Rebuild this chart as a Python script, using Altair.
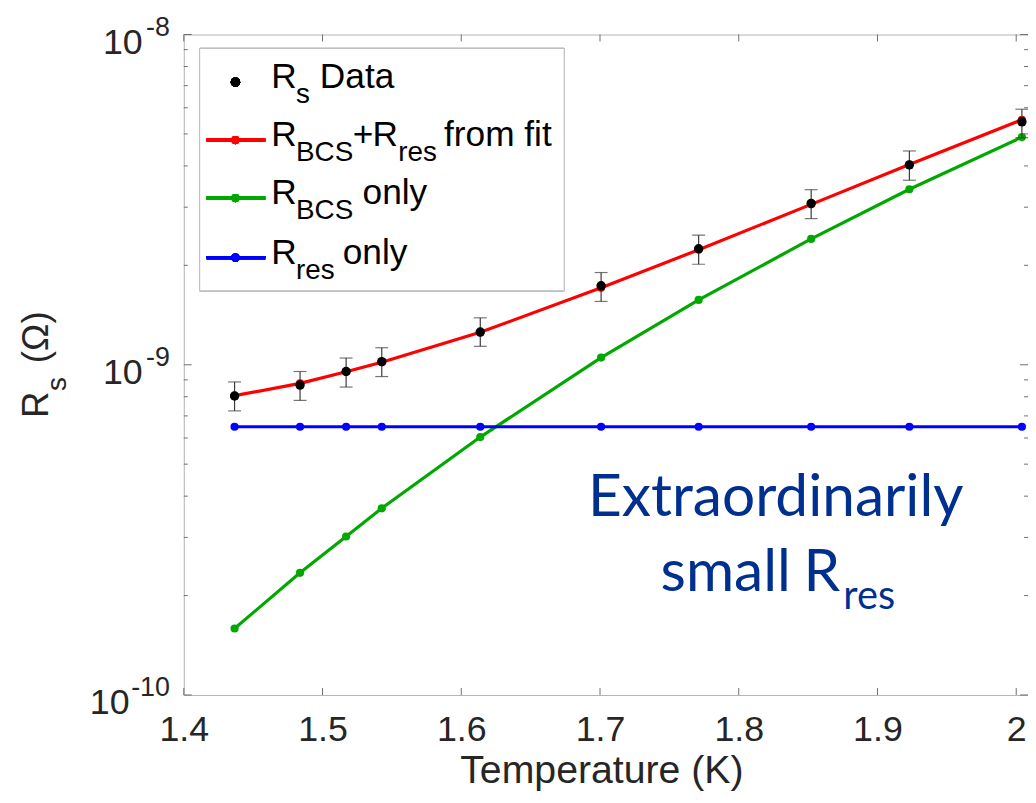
import altair as alt
import pandas as pd

# ---------------- data ----------------
T = [1.4366, 1.4838, 1.5170, 1.5427, 1.6137, 1.7008, 1.7711, 1.8522, 1.9230, 2.0041]
rs_data = [8.04e-10, 8.68e-10, 9.54e-10, 1.022e-9, 1.256e-9, 1.734e-9, 2.245e-9, 3.08e-9, 4.03e-9, 5.44e-9]
rs_lo = [7.25e-10, 7.80e-10, 8.56e-10, 9.21e-10, 1.137e-9, 1.555e-9, 2.015e-9, 2.77e-9, 3.62e-9, 4.87e-9]
rs_hi = [8.87e-10, 9.54e-10, 1.048e-9, 1.126e-9, 1.387e-9, 1.902e-9, 2.469e-9, 3.39e-9, 4.44e-9, 5.94e-9]
r_fit = [8.06e-10, 8.78e-10, 9.52e-10, 1.018e-9, 1.254e-9, 1.71e-9, 2.23e-9, 3.06e-9, 4.04e-9, 5.52e-9]
r_bcs = [1.59e-10, 2.344e-10, 3.02e-10, 3.675e-10, 6.04e-10, 1.051e-9, 1.571e-9, 2.405e-9, 3.40e-9, 4.89e-9]
r_res = [6.49e-10, 6.49e-10, 6.49e-10, 6.49e-10, 6.49e-10, 6.49e-10, 6.49e-10, 6.49e-10, 6.49e-10, 6.49e-10]

x_ticks = [1.4, 1.5, 1.6, 1.7, 1.8, 1.9, 2.0]
y_major = [1e-10, 1e-9, 1e-8]
y_sup = ["-10", "-9", "-8"]
y_minor = [2e-10, 3e-10, 4e-10, 5e-10, 6e-10, 7e-10, 8e-10, 9e-10,
           2e-9, 3e-9, 4e-9, 5e-9, 6e-9, 7e-9, 8e-9, 9e-9]
x_title = "Temperature (K)"

series_colors = {"fit": "#ff0000", "bcs": "#00a800", "res": "#0000ff"}

# ---------------- layout / style ----------------
W, H = 850, 665
FONT = "Liberation Sans"
TXT = "#262626"
TICK = "#6f6f6f"

xs = alt.Scale(domain=[1.4, 2.0085], nice=False, zero=False)
ys = alt.Scale(type="log", domain=[1e-10, 1e-8], nice=False)

df = pd.DataFrame({"T": T, "data": rs_data, "lo": rs_lo, "hi": rs_hi,
                   "fit": r_fit, "bcs": r_bcs, "res": r_res})

X = alt.X("T:Q", scale=xs, axis=alt.Axis(values=x_ticks,
          labelExpr="datum.value == 2 ? '2' : format(datum.value, '.1f')",
          title=None))

layers = []
# base invisible layer carrying the x axis
layers.append(alt.Chart(df).mark_point(opacity=0).encode(
    x=X, y=alt.Y("data:Q", scale=ys, axis=None)))

for key in ["fit", "bcs", "res"]:
    c = series_colors[key]
    base = alt.Chart(df).encode(x=alt.X("T:Q", scale=xs),
                                y=alt.Y(f"{key}:Q", scale=ys))
    layers.append(base.mark_line(color=c, strokeWidth=3.2))
    layers.append(base.mark_circle(color=c, size=68, opacity=1))

# error bars
layers.append(alt.Chart(df).mark_rule(color="#3a3a3a", strokeWidth=1.2).encode(
    x=alt.X("T:Q", scale=xs), y=alt.Y("lo:Q", scale=ys), y2="hi:Q"))
for f in ["lo", "hi"]:
    layers.append(alt.Chart(df).mark_tick(color="#3a3a3a", orient="horizontal",
                                          size=13, thickness=1.2).encode(
        x=alt.X("T:Q", scale=xs), y=alt.Y(f"{f}:Q", scale=ys)))
# data dots
layers.append(alt.Chart(df).mark_circle(color="black", size=90, opacity=1).encode(
    x=alt.X("T:Q", scale=xs), y=alt.Y("data:Q", scale=ys)))

# ---------------- inward ticks ----------------
dxt = pd.DataFrame({"v": x_ticks})
for y0, y1 in [(H, H - 7), (0, 7)]:
    layers.append(alt.Chart(dxt).mark_rule(color=TICK, strokeWidth=1).encode(
        x=alt.X("v:Q", scale=xs), y=alt.value(y0), y2=alt.value(y1)))
dym = pd.DataFrame({"v": y_major})
dyn = pd.DataFrame({"v": y_minor})
for d, L in [(dym, 8), (dyn, 4)]:
    for x0, x1 in [(0, L), (W, W - L)]:
        layers.append(alt.Chart(d).mark_rule(color=TICK, strokeWidth=1).encode(
            y=alt.Y("v:Q", scale=ys), x=alt.value(x0), x2=alt.value(x1)))

# ---------------- y tick labels 10^k ----------------
dlab = pd.DataFrame({"v": y_major, "sup": y_sup})
layers.append(alt.Chart(dlab).mark_text(font=FONT, fontSize=27, color=TXT,
                                        align="right", baseline="alphabetic", dy=1.5).encode(
    y=alt.Y("v:Q", scale=ys), x=alt.value(-14), text="sup:N"))
layers.append(alt.Chart(dlab).transform_calculate(
    xb="-15 - length(datum.sup) * 13.2"
).mark_text(font=FONT, fontSize=36, color=TXT, align="right",
            baseline="alphabetic", dy=19.5).encode(
    y=alt.Y("v:Q", scale=ys), x=alt.X("xb:Q", scale=None), text=alt.value("10")))

# ---------------- x axis title ----------------
layers.append(alt.Chart(pd.DataFrame({"t": [x_title]})).mark_text(
    font=FONT, fontSize=39.5, color=TXT, align="center", baseline="alphabetic").encode(
    x=alt.value(421), y=alt.value(754), text="t:N"))

# ---------------- y axis title  R_s (Ω) ----------------
ytitle = pd.DataFrame({
    "t": ["R", "s", "(\u03a9)"],
    "px": [-137, -119, -137],
    "py": [386, 359, 331],
    "fs": [37, 28, 37],
})
layers.append(alt.Chart(ytitle).mark_text(font=FONT, color=TXT, angle=270,
                                          align="left", baseline="alphabetic").encode(
    x=alt.X("px:Q", scale=None), y=alt.Y("py:Q", scale=None),
    size=alt.Size("fs:Q", scale=None, legend=None), text="t:N"))

# ---------------- legend ----------------
layers.append(alt.Chart(df).mark_rect(fill="white", stroke="#bdbdbd", strokeWidth=1).encode(
    x=alt.value(16), x2=alt.value(383), y=alt.value(14), y2=alt.value(258)))
rows_y = [48, 106.3, 164.7, 224.7]
for key, yy in zip(["fit", "bcs", "res"], rows_y[1:]):
    c = series_colors[key]
    layers.append(alt.Chart(df).mark_rule(color=c, strokeWidth=3.2).encode(
        x=alt.value(23), x2=alt.value(82), y=alt.value(yy)))
    layers.append(alt.Chart(df).mark_circle(color=c, size=68, opacity=1).encode(
        x=alt.value(52), y=alt.value(yy)))
layers.append(alt.Chart(df).mark_circle(color="black", size=90, opacity=1).encode(
    x=alt.value(52), y=alt.value(rows_y[0])))

MAIN, SUB = 35.5, 28
pieces = [
    (0, "R", 88, MAIN), (0, "s", 113, SUB), (0, "Data", 137, MAIN),
    (1, "R", 88, MAIN), (1, "BCS", 113, SUB), (1, "+", 170, MAIN),
    (1, "R", 190, MAIN), (1, "res", 216, SUB), (1, "from fit", 262, MAIN),
    (2, "R", 88, MAIN), (2, "BCS", 113, SUB), (2, "only", 180, MAIN),
    (3, "R", 88, MAIN), (3, "res", 113, SUB), (3, "only", 160, MAIN),
]
leg = pd.DataFrame({
    "t": [p[1] for p in pieces],
    "px": [p[2] for p in pieces],
    "py": [rows_y[p[0]] + (6 if p[3] == MAIN else 21) for p in pieces],
    "fs": [p[3] for p in pieces],
})
layers.append(alt.Chart(leg).mark_text(font=FONT, color="black", align="left",
                                       baseline="alphabetic").encode(
    x=alt.X("px:Q", scale=None), y=alt.Y("py:Q", scale=None),
    size=alt.Size("fs:Q", scale=None, legend=None), text="t:N"))

# ---------------- annotation ----------------
ann = pd.DataFrame({
    "t": ["Extraordinarily", "small", "R", "res"],
    "px": [596, 480, 624, 664],
    "py": [485, 560, 560, 578],
    "fs": [59, 59, 59, 40],
    "al": ["center", "left", "left", "left"],
})
for i in range(len(ann)):
    r = ann.iloc[[i]]
    layers.append(alt.Chart(r).mark_text(font="Lato", color="#00308f",
                                         align=r["al"].iloc[0], baseline="alphabetic").encode(
        x=alt.X("px:Q", scale=None), y=alt.Y("py:Q", scale=None),
        size=alt.Size("fs:Q", scale=None, legend=None), text="t:N"))

chart = alt.layer(*layers).properties(
    width=W, height=H,
    padding={"left": 177, "top": 24, "right": 0, "bottom": 98},
    autosize=alt.AutoSizeParams(type="none"),
).configure_view(stroke="#b3b3b3", strokeWidth=1).configure_axisX(
    domain=False, ticks=False, tickSize=0, grid=False, labelFlush=False,
    labelFont=FONT, labelFontSize=36, labelColor=TXT, labelPadding=18,
)

chart.save("out.html", embed_options={"renderer": "svg", "actions": False})
